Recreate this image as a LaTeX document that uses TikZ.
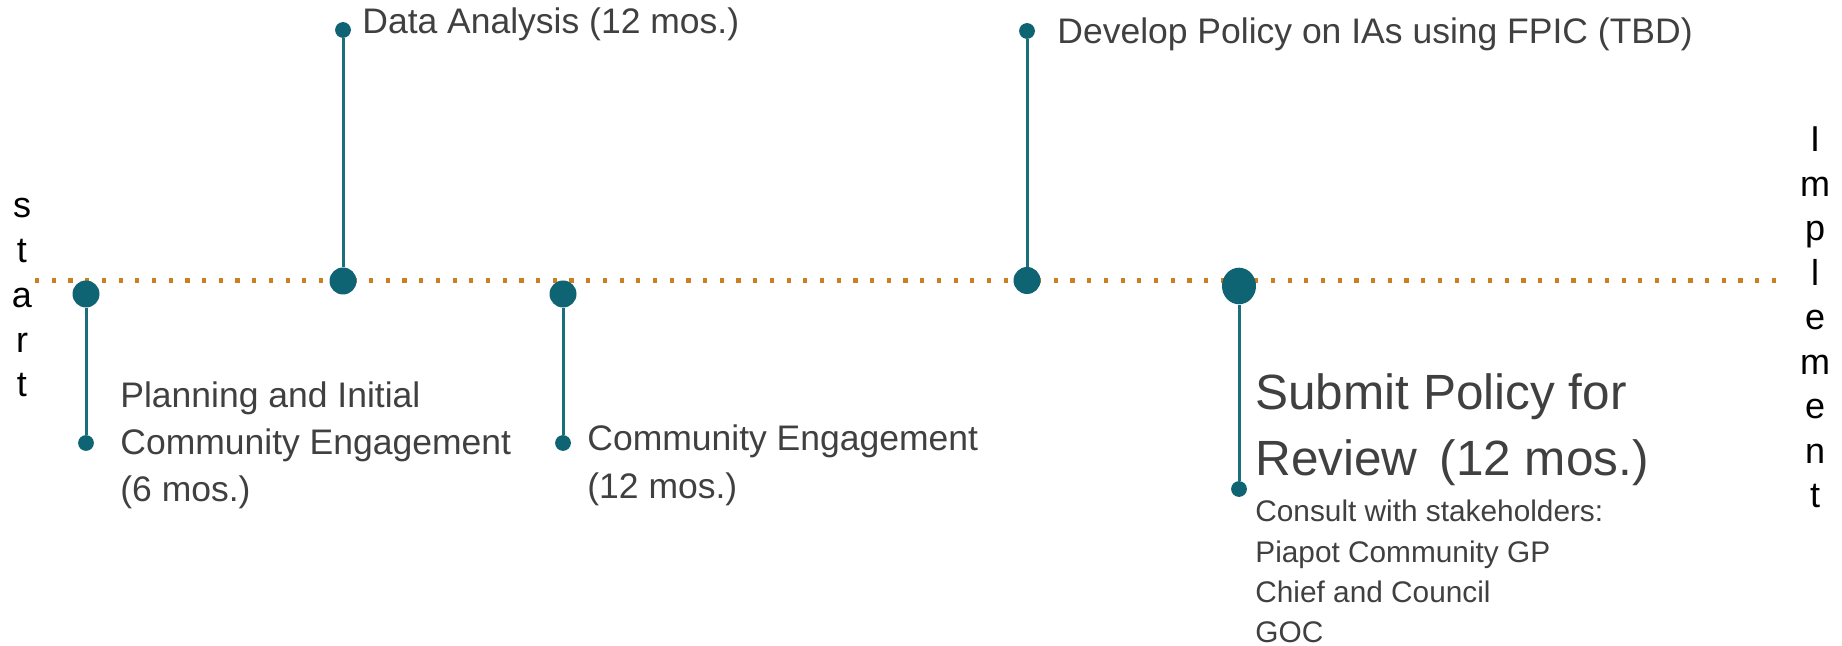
\documentclass[tikz,border=0pt]{standalone}
\usepackage{fontspec}
\setmainfont{Liberation Sans}
\usetikzlibrary{shapes.geometric}
\definecolor{tealdot}{HTML}{0E6473}
\definecolor{stemc}{HTML}{1A6F7D}
\definecolor{orng}{HTML}{C98020}
\definecolor{txt}{HTML}{404040}
\begin{document}
\begin{tikzpicture}[x=0.5pt,y=-0.5pt,
  bigdot/.style={ellipse,fill=tealdot,inner sep=0pt,minimum width=13.5pt,minimum height=13.5pt},
  smalldot/.style={ellipse,fill=tealdot,inner sep=0pt,minimum width=7.9pt,minimum height=7.9pt},
  stem/.style={draw=stemc,line width=1.5pt},
  lbl/.style={anchor=base west,inner sep=0pt,text=txt,font=\fontsize{17.75}{21}\selectfont},
  biglbl/.style={lbl,font=\fontsize{24.75}{29}\selectfont},
  smalllbl/.style={lbl,font=\fontsize{14.9}{17}\selectfont},
  vert/.style={anchor=base,inner sep=0pt,text=black,font=\fontsize{18}{21}\selectfont},
  timeline/.style={draw=orng,line width=2.1pt,dash pattern=on 2.1pt off 6.25pt}]
\useasboundingbox (0,0) rectangle (1842,646);

% timeline
\coordinate (ls) at (35,280.5);
\coordinate (le) at (1786,280.5);
\draw[timeline] (ls) -- (le);

% milestone dots
\node[bigdot] (p1) at (86,294) {};
\node[smalldot] (p1s) at (86,443) {};
\node[bigdot] (d1) at (343,281) {};
\node[smalldot] (d1s) at (343,30) {};
\node[bigdot] (c1) at (563,294) {};
\node[smalldot] (c1s) at (563,443) {};
\node[bigdot] (v1) at (1027,280.5) {};
\node[smalldot] (v1s) at (1027,31) {};
\node[bigdot,minimum width=17pt,minimum height=18.3pt] (s1) at (1239,286) {};
\node[smalldot] (s1s) at (1239,489) {};

% stems
\draw[stem] (p1) -- (p1s);
\draw[stem] (d1) -- (d1s);
\draw[stem] (c1) -- (c1s);
\draw[stem] (v1) -- (v1s);
\draw[stem] (s1) -- (s1s);

% labels
\node[lbl] (pl1) at (120,408) {Planning and Initial};
\node[lbl] (pl2) at (120,455) {Community Engagement};
\node[lbl] (pl3) at (120,502) {(6 mos.)};
\node[lbl] (dl) at (362,34) {Data Analysis (12 mos.)};
\node[lbl] (cl1) at (587,451) {Community Engagement};
\node[lbl] (cl2) at (587,498) {(12 mos.)};
\node[lbl] (vl) at (1057,44) {Develop Policy on IAs using FPIC (TBD)};
\node[biglbl] (sl1) at (1255,410) {Submit Policy for};
\node[biglbl] (sl2) at (1255,476) {Review\ \,(12 mos.)};
\node[smalllbl] (sc1) at (1255,522) {Consult with stakeholders:};
\node[smalllbl] (sc2) at (1255,562) {Piapot Community GP};
\node[smalllbl] (sc3) at (1255,602) {Chief and Council};
\node[smalllbl] (sc4) at (1255,642) {GOC};

% vertical words
\foreach \ch [count=\i] in {s,t,a,r,t}
  \node[vert] (st\i) at ({22},{218+44.75*(\i-1)}) {\ch};
\foreach \ch [count=\i] in {I,m,p,l,e,m,e,n,t}
  \node[vert] (im\i) at ({1815},{152+44.5*(\i-1)}) {\ch};
\end{tikzpicture}
\end{document}
